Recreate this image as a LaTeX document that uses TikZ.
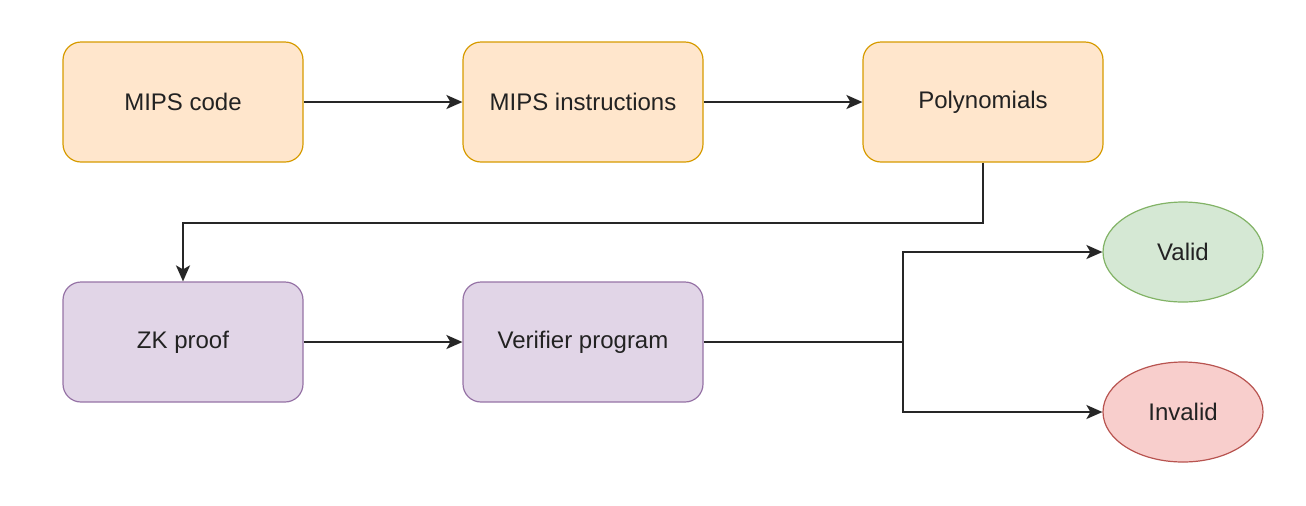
\documentclass[tikz,border=0pt]{standalone}
\usepackage{fontspec}
\setmainfont{Liberation Sans}
\usetikzlibrary{shapes.geometric,arrows.meta}
\definecolor{ofill}{HTML}{FFE6CC}\definecolor{odraw}{HTML}{D79B00}
\definecolor{pfill}{HTML}{E1D5E7}\definecolor{pdraw}{HTML}{9673A6}
\definecolor{gfill}{HTML}{D5E8D4}\definecolor{gdraw}{HTML}{82B366}
\definecolor{rfill}{HTML}{F8CECC}\definecolor{rdraw}{HTML}{B85450}
\definecolor{txt}{HTML}{222222}
\tikzset{
  box/.style={rectangle, rounded corners=9pt, minimum width=120pt, minimum height=60pt, line width=0.6pt, inner sep=0pt, text=txt, font=\fontsize{12}{14}\selectfont},
  obox/.style={box, fill=ofill, draw=odraw},
  pbox/.style={box, fill=pfill, draw=pdraw},
  oval/.style={ellipse, minimum width=80pt, minimum height=50pt, inner sep=0pt, line width=0.6pt, text=txt, font=\fontsize{12}{14}\selectfont},
  conn/.style={line width=1pt, draw=black!85, -{Stealth[length=8pt,width=7pt,inset=2pt]}},
}
\begin{document}
\begin{tikzpicture}[x=0.5pt,y=-0.5pt]
\useasboundingbox (0,0) rectangle (1306,505);
\node[obox] (a) at (183,102) {MIPS code};
\node[obox] (b) at (583,102) {MIPS instructions};
\node[obox] (c) at (983,102) {Polynomials};
\node[pbox] (d) at (183,342) {ZK proof};
\node[pbox] (e) at (583,342) {Verifier program};
\node[oval, fill=gfill, draw=gdraw] (v) at (1183,252) {Valid};
\node[oval, fill=rfill, draw=rdraw] (i) at (1183,412) {Invalid};
\coordinate (j) at (903,342);
\draw[conn] (a) -- (b);
\draw[conn] (b) -- (c);
\draw[conn] (c.south) -- ++(0,60) -| (d.north);
\draw[conn] (d) -- (e);
\draw[line width=1pt, draw=black!85] (e.east) -- (j);
\draw[conn] (j) |- (v.west);
\draw[conn] (j) |- (i.west);
\end{tikzpicture}
\end{document}
